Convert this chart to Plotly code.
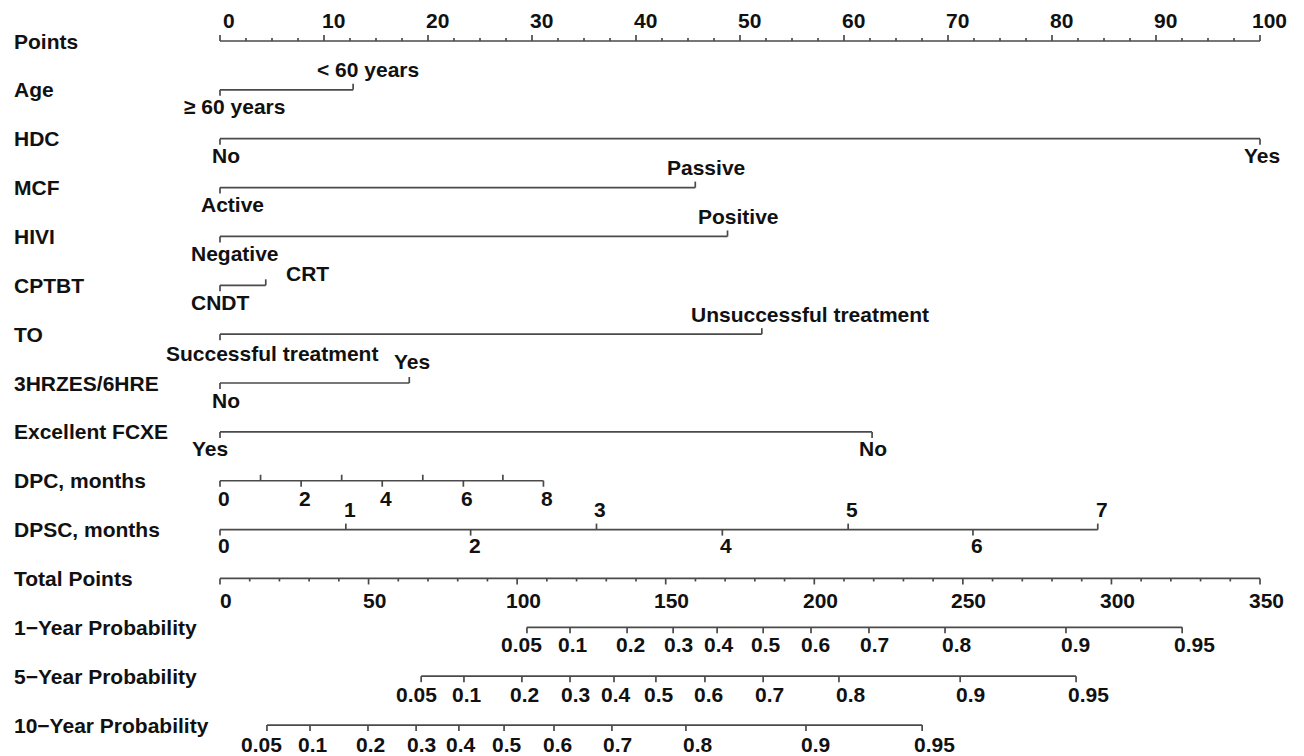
import plotly.graph_objects as go

# ---------------- data ----------------
row_names = ["Points", "Age", "HDC", "MCF", "HIVI", "CPTBT", "TO", "3HRZES/6HRE",
             "Excellent FCXE", "DPC, months", "DPSC, months", "Total Points",
             "1\u2212Year Probability", "5\u2212Year Probability", "10\u2212Year Probability"]

points_major = [0, 10, 20, 30, 40, 50, 60, 70, 80, 90, 100]
points_minor = [2.5, 5, 7.5, 12.5, 15, 17.5, 22.5, 25, 27.5, 32.5, 35, 37.5, 42.5, 45, 47.5,
                52.5, 55, 57.5, 62.5, 65, 67.5, 72.5, 75, 77.5, 82.5, 85, 87.5, 92.5, 95, 97.5]

age_levels = ["\u2265 60 years", "< 60 years"]
age_points = [0, 12.8]
hdc_levels = ["No", "Yes"]
hdc_points = [0, 100]
mcf_levels = ["Active", "Passive"]
mcf_points = [0, 45.7]
hivi_levels = ["Negative", "Positive"]
hivi_points = [0, 48.8]
cptbt_levels = ["CNDT", "CRT"]
cptbt_points = [0, 4.4]
to_levels = ["Successful treatment", "Unsuccessful treatment"]
to_points = [0, 52.1]
hrz_levels = ["No", "Yes"]
hrz_points = [0, 18.2]
fcxe_levels = ["Yes", "No"]
fcxe_points = [0, 62.7]

dpc_months = [0, 1, 2, 3, 4, 5, 6, 7, 8]
dpc_points = [0, 3.9, 7.8, 11.7, 15.6, 19.5, 23.4, 27.2, 31.1]
dpc_labelled = [0, 2, 4, 6, 8]

dpsc_months = [0, 1, 2, 3, 4, 5, 6, 7]
dpsc_points = [0, 12.1, 24.1, 36.2, 48.3, 60.4, 72.4, 84.4]

total_major = [0, 50, 100, 150, 200, 250, 300, 350]
total_minor = [10, 20, 30, 40, 60, 70, 80, 90, 110, 120, 130, 140, 160, 170, 180, 190,
               210, 220, 230, 240, 260, 270, 280, 290, 310, 320, 330, 340]

prob_labels = ["0.05", "0.1", "0.2", "0.3", "0.4", "0.5", "0.6", "0.7", "0.8", "0.9", "0.95"]
prob1_total = [103.3, 117.8, 137.0, 152.5, 167.3, 182.8, 198.9, 218.4, 244.0, 284.7, 323.8]
prob5_total = [67.7, 82.1, 101.6, 117.8, 132.6, 146.7, 163.2, 182.8, 208.3, 249.1, 288.1]
prob10_total = [15.8, 30.3, 49.8, 66.0, 80.4, 95.6, 112.4, 131.9, 156.8, 197.2, 236.3]

# ---------------- styling / layout ----------------
W, H = 1304, 756
PX_PER_PT = 10.4
X0_PX = 220
ROW0_PX = 41
ROW_PX = 48.86
TOTAL_PER_PT = 3.5

LINE_COLOR = "#4a4a4a"
FONT = "Liberation Sans, Arial, sans-serif"
LAB_SIZE = 21
TXT_SIZE = 21

# (side, xshift px, vertical offset px) ; side +1 above, -1 below
cat_style = {
    "Age": [(-1, 14, 17), (1, 15, 20)],
    "HDC": [(-1, 6, 17), (-1, 2, 17)],
    "MCF": [(-1, 12, 17), (1, 11, 20)],
    "HIVI": [(-1, 15, 17), (1, 11, 20)],
    "CPTBT": [(-1, 0, 17), (1, 42, 12)],
    "TO": [(-1, 52, 19), (1, 48, 20)],
    "3HRZES/6HRE": [(-1, 6, 17), (1, 3, 22)],
    "Excellent FCXE": [(-1, -10, 17), (-1, 1, 17)],
}
prob_label_shift = [-5, 3, 3, 5, 2, 3, 4, 6, 12, 10, 12]

def tk(px):
    return px / ROW_PX

segx, segy = [], []      # segments on points scale
segx2, segy2 = [], []    # segments on total-points scale
annotations = []

def seg(xs, ys, a, b):
    xs.extend([a[0], b[0], None])
    ys.extend([a[1], b[1], None])

def text(x, y, t, dx=0, dy=0, size=TXT_SIZE, xref="x"):
    annotations.append(dict(x=x, y=y, xref=xref, yref="y", text="<b>%s</b>" % t,
                            showarrow=False, xshift=dx, yshift=dy,
                            font=dict(family=FONT, size=size, color="#111111"),
                            xanchor="center", yanchor="middle"))

# left variable names
for i, name in enumerate(row_names):
    annotations.append(dict(x=12 / W, y=i, xref="paper", yref="y", text="<b>%s</b>" % name,
                            showarrow=False, xanchor="left", yanchor="middle",
                            font=dict(family=FONT, size=LAB_SIZE, color="#111111")))

# Points axis (row 0)
r = 0
seg(segx, segy, (points_major[0], r), (points_major[-1], r))
for v in points_major:
    seg(segx, segy, (v, r), (v, r - tk(6)))
    text(v, r, str(v), dx=9, dy=21)
for v in points_minor:
    seg(segx, segy, (v, r), (v, r - tk(3)))

# categorical variables
cat_vars = [
    ("Age", age_levels, age_points),
    ("HDC", hdc_levels, hdc_points),
    ("MCF", mcf_levels, mcf_points),
    ("HIVI", hivi_levels, hivi_points),
    ("CPTBT", cptbt_levels, cptbt_points),
    ("TO", to_levels, to_points),
    ("3HRZES/6HRE", hrz_levels, hrz_points),
    ("Excellent FCXE", fcxe_levels, fcxe_points),
]
for name, levels, pts in cat_vars:
    r = row_names.index(name)
    seg(segx, segy, (min(pts), r), (max(pts), r))
    for (lev, p), (side, dx, off) in zip(zip(levels, pts), cat_style[name]):
        seg(segx, segy, (p, r), (p, r - side * tk(6)))
        text(p, r, lev, dx=dx, dy=side * off)

# DPC
r = row_names.index("DPC, months")
seg(segx, segy, (dpc_points[0], r), (dpc_points[-1], r))
for m, p in zip(dpc_months, dpc_points):
    if m in dpc_labelled:
        seg(segx, segy, (p, r), (p, r + tk(6)))
        text(p, r, str(m), dx=4, dy=-18)
    else:
        seg(segx, segy, (p, r), (p, r - tk(6)))

# DPSC
r = row_names.index("DPSC, months")
seg(segx, segy, (dpsc_points[0], r), (dpsc_points[-1], r))
for m, p in zip(dpsc_months, dpsc_points):
    if m % 2 == 1:
        seg(segx, segy, (p, r), (p, r - tk(6)))
        text(p, r, str(m), dx=4, dy=20)
    else:
        seg(segx, segy, (p, r), (p, r + tk(6)))
        text(p, r, str(m), dx=4, dy=-16)

# Total points (x2 scale)
r = row_names.index("Total Points")
seg(segx2, segy2, (total_major[0], r), (total_major[-1], r))
for v in total_major:
    seg(segx2, segy2, (v, r), (v, r + tk(6)))
    text(v, r, str(v), dx=6, dy=-22, xref="x2")
for v in total_minor:
    seg(segx2, segy2, (v, r), (v, r + tk(3)))

# probability axes
for name, vals, off in [("1\u2212Year Probability", prob1_total, 17),
                        ("5\u2212Year Probability", prob5_total, 18),
                        ("10\u2212Year Probability", prob10_total, 19)]:
    r = row_names.index(name)
    seg(segx2, segy2, (vals[0], r), (vals[-1], r))
    for lab, v, sh in zip(prob_labels, vals, prob_label_shift):
        seg(segx2, segy2, (v, r), (v, r + tk(6)))
        text(v, r, lab, dx=sh, dy=-off, xref="x2")

fig = go.Figure()
fig.add_trace(go.Scatter(x=segx, y=segy, mode="lines", xaxis="x", yaxis="y",
                         line=dict(color=LINE_COLOR, width=1.7), hoverinfo="skip"))
fig.add_trace(go.Scatter(x=segx2, y=segy2, mode="lines", xaxis="x2", yaxis="y",
                         line=dict(color=LINE_COLOR, width=1.7), hoverinfo="skip"))

xa = -X0_PX / PX_PER_PT
xb = xa + W / PX_PER_PT
ya = -ROW0_PX / ROW_PX
yb = ya + H / ROW_PX

fig.update_layout(
    width=W, height=H, autosize=False,
    margin=dict(l=0, r=0, t=0, b=0, pad=0),
    paper_bgcolor="white", plot_bgcolor="white",
    showlegend=False,
    xaxis=dict(range=[xa, xb], visible=False, fixedrange=True),
    xaxis2=dict(range=[xa * TOTAL_PER_PT, xb * TOTAL_PER_PT], overlaying="x",
                visible=False, fixedrange=True),
    yaxis=dict(range=[yb, ya], visible=False, fixedrange=True),
    annotations=annotations,
)

fig.write_html("out.html", config={"displayModeBar": False},
               post_script="document.body.style.margin='0px';document.body.style.overflow='hidden';")
